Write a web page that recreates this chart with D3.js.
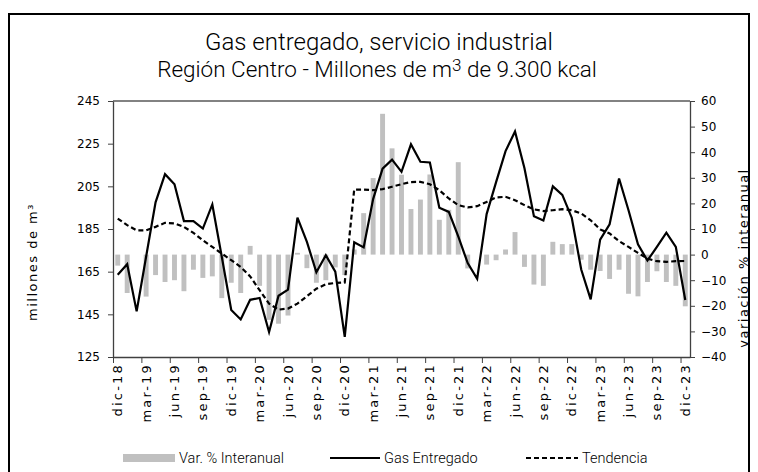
<!DOCTYPE html>
<html><head><meta charset="utf-8">
<script src="https://cdn.jsdelivr.net/npm/d3@7"></script>
<style>body{margin:0;background:#fff} svg{display:block}</style>
</head><body><svg id="c" width="758" height="472"></svg>
<script>
const categories = [
 "dic-18","ene-19","feb-19","mar-19","abr-19","may-19","jun-19","jul-19","ago-19","sep-19","oct-19","nov-19",
 "dic-19","ene-20","feb-20","mar-20","abr-20","may-20","jun-20","jul-20","ago-20","sep-20","oct-20","nov-20",
 "dic-20","ene-21","feb-21","mar-21","abr-21","may-21","jun-21","jul-21","ago-21","sep-21","oct-21","nov-21",
 "dic-21","ene-22","feb-22","mar-22","abr-22","may-22","jun-22","jul-22","ago-22","sep-22","oct-22","nov-22",
 "dic-22","ene-23","feb-23","mar-23","abr-23","may-23","jun-23","jul-23","ago-23","sep-23","oct-23","nov-23",
 "dic-23"];
const gasEntregado = [
 163.6,168.5,146.4,172,197.5,210.7,206,188.7,188.7,185.2,196.5,172,
 147,142.6,151.8,152.7,136.7,153.7,156.6,190.3,179,164.7,172.7,165,
 134.4,178.8,176.4,199,213.3,217.5,211.8,224.7,216.5,216.2,195,193,
 181.5,169,161.7,192,207,221.5,230.7,213.5,191,189,205,201,
 190.3,166,152,180,187.2,208.7,193.8,177.8,170.2,176.6,183.3,176.6,
 151.7];
const tendencia = [
 189.9,186.8,184.4,184.4,186,187.9,187.6,186,183.2,179.7,176.6,173.5,
 170.4,167.2,162.8,156.3,150,147.2,147.7,150,153.5,157,159.1,159.7,
 159.9,203.5,203.5,203.2,203.7,204.8,206,207,207.1,206,203.2,199.3,
 196.2,195.1,195.7,197.7,199.8,200.1,198.5,196.2,194.2,193.4,193.8,194.3,
 193.8,192.3,189.1,184.8,182.9,179.3,176.6,173.8,171.1,169.9,169.6,169.9,
 170];
const varInteranual = [
 -4.3,-15,0,-16.4,-8,-10.7,-10,-14.3,-5.9,-9.1,-8.5,-17,
 -11,-15,3.4,-12.2,-25.5,-27,-23.8,0.7,-5.3,-11,-10,-5,
 -8,2,16.2,29.9,55,41.5,31.2,17.8,21.5,31.3,13.6,17.5,
 36.1,-5.4,0,-3.9,-2.2,2,8.8,-4.8,-11.7,-12.2,5,4.1,
 4.1,-2,-5.9,-6.4,-9.5,-5.9,-15.3,-16.3,-10.7,-6.5,-10.7,-12.2,
 -20.2];
const leftTicks = [125,145,165,185,205,225,245];
const rightTicks = [-40,-30,-20,-10,0,10,20,30,40,50,60];
const xLabelEvery = 3;
const titleText = "Gas entregado, servicio industrial";
const subtitleText = "Región Centro - Millones de m";
const leftTitle = "millones de m³";
const rightTitle = "variación % interanual";
const legendNames = ["Var. % Interanual","Gas Entregado","Tendencia"];

const svg = d3.select("#c");
const L = 113, R = 690, T = 101, B = 357;
const font = "Roboto, Lato, sans-serif";
const tickFont = "'DejaVu Sans', sans-serif";

svg.append("rect").attr("x",9).attr("y",14).attr("width",740).attr("height",470)
  .attr("fill","none").attr("stroke","#000").attr("stroke-width",2);

const x = d3.scaleBand().domain(categories).range([L,R]).padding(0);
const xi = d3.scaleLinear().domain([0,categories.length]).range([L,R]);
const yL = d3.scaleLinear().domain([125,245]).range([B,T]);
const yR = d3.scaleLinear().domain([-40,60]).range([B,T]);
const bw = x.bandwidth();
const cx = c => x(c) + bw/2;

// bars
svg.append("g").selectAll("rect").data(categories).join("rect")
  .attr("x",(c)=>cx(c)-bw*0.26)
  .attr("width",bw*0.52)
  .attr("y",(c,i)=>yR(Math.max(0,varInteranual[i])))
  .attr("height",(c,i)=>Math.abs(yR(varInteranual[i])-yR(0)))
  .attr("fill","#c0c0c0");

// trend
svg.append("path").datum(tendencia)
  .attr("d",d3.line().x((d,i)=>cx(categories[i])).y(d=>yL(d)))
  .attr("fill","none").attr("stroke","#000").attr("stroke-width",2.2).attr("stroke-dasharray","5,3");
// gas
svg.append("path").datum(gasEntregado)
  .attr("d",d3.line().x((d,i)=>cx(categories[i])).y(d=>yL(d)))
  .attr("fill","none").attr("stroke","#000").attr("stroke-width",2.2).attr("stroke-linejoin","miter");

// plot box
svg.append("line").attr("x1",L).attr("x2",R).attr("y1",T).attr("y2",T).attr("stroke","#595959").attr("stroke-width",1.3);

// axes
const gL = svg.append("g").attr("transform",`translate(${L},0)`)
  .call(d3.axisLeft(yL).tickValues(leftTicks).tickSize(5).tickSizeOuter(0).tickPadding(8));
const gR = svg.append("g").attr("transform",`translate(${R},0)`)
  .call(d3.axisRight(yR).tickValues(rightTicks).tickSize(5).tickSizeOuter(0).tickPadding(6));
const gB = svg.append("g").attr("transform",`translate(0,${B})`)
  .call(d3.axisBottom(xi).tickValues(d3.range(0,categories.length,xLabelEvery)).tickFormat("").tickSize(6).tickSizeOuter(0));
const labelCats = categories.filter((c,i)=>i%xLabelEvery===0);
const gBL = svg.append("g").attr("transform",`translate(0,${B})`)
  .call(d3.axisBottom(x).tickValues(labelCats).tickSize(0).tickSizeOuter(0));
gBL.select(".domain").remove();
gBL.selectAll("text").attr("transform","rotate(-90)").attr("text-anchor","end")
  .attr("x",-6).attr("y",0).attr("dy","0.35em");

[gL,gR,gB].forEach(g=>{g.select(".domain").attr("stroke","#404040").attr("stroke-width",1.3);
  g.selectAll(".tick line").attr("stroke","#404040");});
[gL,gR,gBL].forEach(g=>g.selectAll("text").attr("font-family",tickFont).attr("font-size",12).attr("fill","#000"));
gBL.selectAll("text").attr("letter-spacing","2.2px").attr("font-size",13);

// titles
svg.append("text").attr("x",379).attr("y",50).attr("text-anchor","middle")
  .attr("font-family",font).attr("font-weight",300).attr("font-size",24).attr("fill","#000").text(titleText);
const st = svg.append("text").attr("x",377).attr("y",77).attr("text-anchor","middle")
  .attr("font-family",font).attr("font-weight",300).attr("font-size",22.5).attr("fill","#000");
st.append("tspan").text(subtitleText);
st.append("tspan").text("3").attr("font-size",17).attr("dy",-6);
st.append("tspan").text(" de 9.300 kcal").attr("dy",6);

svg.append("text").attr("transform",`translate(37,262) rotate(-90)`).attr("text-anchor","middle")
  .attr("font-family",tickFont).attr("font-size",13).attr("letter-spacing","1.5px").text(leftTitle);
svg.append("text").attr("transform",`translate(748,258) rotate(-90)`).attr("text-anchor","middle")
  .attr("font-family",tickFont).attr("font-size",13).attr("letter-spacing","1.5px").text(rightTitle);

// legend
const ly = 458;
svg.append("rect").attr("x",123).attr("y",ly-4).attr("width",52).attr("height",8).attr("fill","#c0c0c0");
svg.append("text").attr("x",179).attr("y",ly+5).attr("font-family",font).attr("font-weight",300).attr("font-size",14.5).text(legendNames[0]);
svg.append("line").attr("x1",330).attr("x2",380).attr("y1",ly).attr("y2",ly).attr("stroke","#000").attr("stroke-width",2.2);
svg.append("text").attr("x",384).attr("y",ly+5).attr("font-family",font).attr("font-weight",300).attr("font-size",14.5).text(legendNames[1]);
svg.append("line").attr("x1",526).attr("x2",578).attr("y1",ly).attr("y2",ly).attr("stroke","#000").attr("stroke-width",2.2).attr("stroke-dasharray","5,3");
svg.append("text").attr("x",582).attr("y",ly+5).attr("font-family",font).attr("font-weight",300).attr("font-size",14.5).text(legendNames[2]);
</script></body></html>
